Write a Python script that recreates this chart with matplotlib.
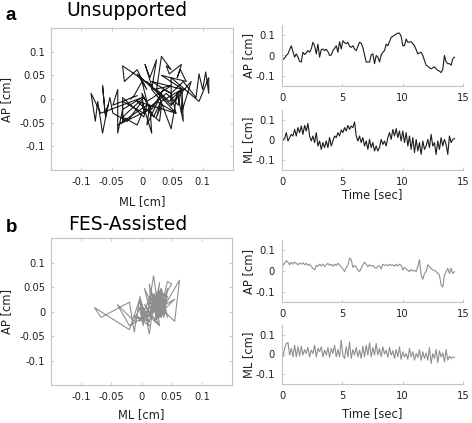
import numpy as np
import matplotlib
matplotlib.use("Agg")
import matplotlib.pyplot as plt

plt.rcParams['font.family'] = ['DejaVu Sans']
plt.rcParams['axes.unicode_minus'] = False

# ---------------- data (cm) ----------------
# Unsupported (panel a)
ap_a = [-0.019, -0.013, 0.0, 0.008, 0.029, 0.048, 0.019, -0.008, 0.008, -0.008,
        -0.029, -0.032, 0.016, 0.005, 0.013, 0.024, 0.016, 0.032, 0.065, 0.048,
        0.008, 0.056, -0.008, 0.029, 0.032, 0.024, 0.031, 0.019, 0.0, 0.003,
        0.024, 0.035, 0.048, 0.016, 0.068, 0.032, 0.073, 0.063, 0.058, 0.065,
        0.045, 0.040, 0.048, 0.032, 0.024, 0.045, 0.065, 0.060, 0.040, 0.003,
        -0.032, -0.032, -0.032, 0.003, 0.008, -0.040, 0.0, -0.008, -0.032, 0.003,
        0.016, 0.024, 0.056, 0.048, 0.068, 0.089, 0.094, 0.100, 0.105, 0.110,
        0.110, 0.094, 0.048, 0.048, 0.081, 0.065, 0.066, 0.068, 0.058, 0.048,
        0.029, 0.008, 0.013, 0.016, 0.0, -0.024, -0.048, -0.053, -0.060, -0.065,
        -0.061, -0.056, -0.065, -0.073, -0.077, -0.084, -0.068, 0.0, -0.032, -0.040,
        -0.040, -0.048, -0.016, -0.008]
ml_a = [0.0, 0.007, 0.037, -0.005, 0.012, 0.028, 0.02, 0.053, 0.02, 0.062,
        0.037, 0.07, 0.028, 0.073, 0.045, 0.083, 0.02, -0.005, 0.02, -0.013,
        0.037, -0.03, -0.005, -0.047, -0.013, -0.038, -0.005, -0.038, 0.012, -0.03,
        -0.005, 0.02, 0.012, 0.037, 0.02, 0.05, 0.037, 0.062, 0.045, 0.073,
        0.053, 0.07, 0.062, 0.09, 0.02, -0.005, 0.02, -0.013, 0.012, -0.03,
        -0.005, -0.047, 0.003, -0.038, -0.013, -0.055, -0.03, -0.055, -0.038, 0.003,
        -0.022, -0.005, -0.03, 0.012, 0.037, 0.003, 0.053, 0.02, 0.057, 0.012,
        0.045, -0.005, 0.045, -0.013, 0.037, -0.03, 0.02, -0.047, 0.012, -0.063,
        0.003, -0.055, -0.013, -0.072, -0.005, -0.047, -0.03, 0.003, -0.038, 0.028,
        -0.03, -0.013, -0.072, -0.005, -0.047, 0.012, -0.03, 0.003, -0.022, -0.072,
        0.02, -0.013, 0.003, 0.007]

# FES-Assisted (panel b)
ap_b = [0.027, 0.038, 0.05, 0.043, 0.03, 0.043, 0.033, 0.043, 0.037, 0.03,
        0.038, 0.033, 0.04, 0.03, 0.037, 0.027, 0.033, 0.022, 0.013, 0.005,
        0.027, 0.022, 0.033, 0.025, 0.033, 0.022, 0.03, 0.037, 0.027, 0.033,
        0.023, 0.033, 0.027, 0.037, 0.03, 0.02, 0.01, -0.003, 0.017, 0.027,
        0.063, 0.055, 0.017, 0.027, 0.02, 0.005, -0.003, 0.013, 0.03, 0.043,
        0.033, 0.02, 0.03, 0.023, 0.027, 0.017, 0.013, 0.023, 0.025, 0.01,
        0.033, 0.027, 0.03, 0.025, 0.033, 0.027, 0.03, 0.023, 0.032, 0.025,
        0.033, 0.027, 0.005, 0.017, 0.01, 0.003, -0.003, 0.007, 0.0, 0.003,
        -0.003, 0.022, 0.055, -0.02, -0.04, -0.012, -0.003, 0.03, 0.022, 0.013,
        0.005, 0.003, -0.003, -0.012, -0.02, -0.067, -0.078, -0.02, -0.003, 0.013,
        -0.012, 0.013, -0.012, -0.003]
ml_b = [-0.012, 0.031, 0.056, 0.061, -0.003, 0.031, -0.012, 0.047, -0.012, 0.039,
        -0.008, 0.042, -0.003, 0.025, 0.005, 0.036, -0.012, 0.022, 0.005, 0.047,
        -0.012, 0.031, 0.014, 0.039, -0.012, 0.022, -0.003, 0.036, -0.015, 0.031,
        0.005, 0.047, -0.012, 0.025, -0.012, 0.073, -0.003, -0.02, 0.039, -0.012,
        0.064, -0.02, 0.025, -0.003, 0.036, -0.012, 0.022, -0.02, 0.042, -0.012,
        0.047, -0.003, 0.059, -0.012, 0.036, -0.003, 0.056, -0.003, 0.031, -0.012,
        0.039, 0.002, 0.022, -0.015, 0.036, -0.003, 0.019, -0.02, 0.025, -0.012,
        0.039, -0.025, 0.014, -0.012, 0.005, -0.025, 0.031, -0.012, 0.014, -0.029,
        0.005, -0.015, 0.025, -0.029, 0.014, -0.02, 0.008, -0.029, 0.036, -0.046,
        0.005, -0.02, 0.025, -0.042, 0.019, -0.012, 0.008, -0.037, 0.025, -0.029,
        -0.008, -0.02, -0.012, -0.015]

t_first, t_last = 0.08, 14.29          # seconds
traj_ticks = [-0.1, -0.05, 0, 0.05, 0.1]
traj_ticklabels = ['-0.1', '-0.05', '0', '0.05', '0.1']
ts_yticks = [-0.1, 0, 0.1]
ts_yticklabels = ['-0.1', '0', '0.1']
ts_xticks = [0, 5, 10, 15]
panels = [('a', 'Unsupported', ap_a, ml_a, '#1c1c1c'),
          ('b', 'FES-Assisted', ap_b, ml_b, '#8f8f8f')]

# ---------------- figure ----------------
W, H = 472, 423
fig = plt.figure(figsize=(W / 100, H / 100), dpi=100)
SPINE = '#c4c4c4'
TXT = '#222222'


def add_ax(x0, y0, x1, y1):
    return fig.add_axes([x0 / W, 1 - y1 / H, (x1 - x0) / W, (y1 - y0) / H])


def style(ax, full_box):
    for s in ax.spines.values():
        s.set_color(SPINE)
        s.set_linewidth(0.8)
    if not full_box:
        ax.spines['top'].set_visible(False)
        ax.spines['right'].set_visible(False)
    ax.tick_params(direction='in', length=2.5, width=0.6, color=SPINE,
                   labelcolor=TXT, labelsize=7.2, pad=5,
                   top=full_box, right=full_box)


layout = {
    'a': dict(traj=(51, 28, 233, 170), ap=(282, 25, 463, 86), ml=(282, 110, 463, 170),
              letter=(6, 20), title=(127, 16), traj_xl=-0.176, time_xl=-0.30),
    'b': dict(traj=(51, 238, 232, 385), ap=(282, 240, 463, 302), ml=(282, 325, 463, 384),
              letter=(6, 232), title=(128, 230), traj_xl=-0.156, time_xl=-0.39),
}

for letter, title, ap, ml, col in panels:
    L = layout[letter]
    ap = np.asarray(ap)
    ml = np.asarray(ml)
    t = np.linspace(t_first, t_last, len(ap))

    # trajectory
    ax = add_ax(*L['traj'])
    ax.plot(ap, ml, color=col, lw=0.8)
    ax.set_xlim(-0.15, 0.15)
    ax.set_ylim(-0.15, 0.15)
    ax.set_xticks(traj_ticks, traj_ticklabels)
    ax.set_yticks(traj_ticks, traj_ticklabels)
    style(ax, True)
    ax.tick_params(axis='y', pad=4)
    ax.set_xlabel('ML [cm]', fontsize=8.3, color=TXT)
    ax.set_ylabel('AP [cm]', fontsize=8.3, color=TXT)
    ax.xaxis.set_label_coords(0.5, L['traj_xl'])
    ax.xaxis.label.set_va('top')
    ax.yaxis.set_label_coords(-0.209, 0.5)

    # time series
    for key, series, lab in (('ap', ap, 'AP [cm]'), ('ml', ml, 'ML [cm]')):
        axt = add_ax(*L[key])
        axt.plot(t, series, color=col, lw=0.8)
        axt.set_xlim(0, 15)
        axt.set_ylim(-0.15, 0.15)
        axt.set_xticks(ts_xticks)
        axt.set_yticks(ts_yticks, ts_yticklabels)
        style(axt, False)
        axt.set_ylabel(lab, fontsize=8.3, color=TXT)
        axt.yaxis.set_label_coords(-0.149, 0.5)
        if key == 'ml':
            axt.set_xlabel('Time [sec]', fontsize=8.3, color=TXT)
            axt.xaxis.set_label_coords(0.5, L['time_xl'])
            axt.xaxis.label.set_va('top')

    fig.text(L['letter'][0] / W, 1 - L['letter'][1] / H, letter,
             family='Liberation Sans', weight='bold', fontsize=13.5, color='black',
             va='baseline', ha='left')
    fig.text(L['title'][0] / W, 1 - L['title'][1] / H, title,
             fontsize=13.5, color='black', va='baseline', ha='center')

fig.savefig('out.png', dpi=100, facecolor='white')
